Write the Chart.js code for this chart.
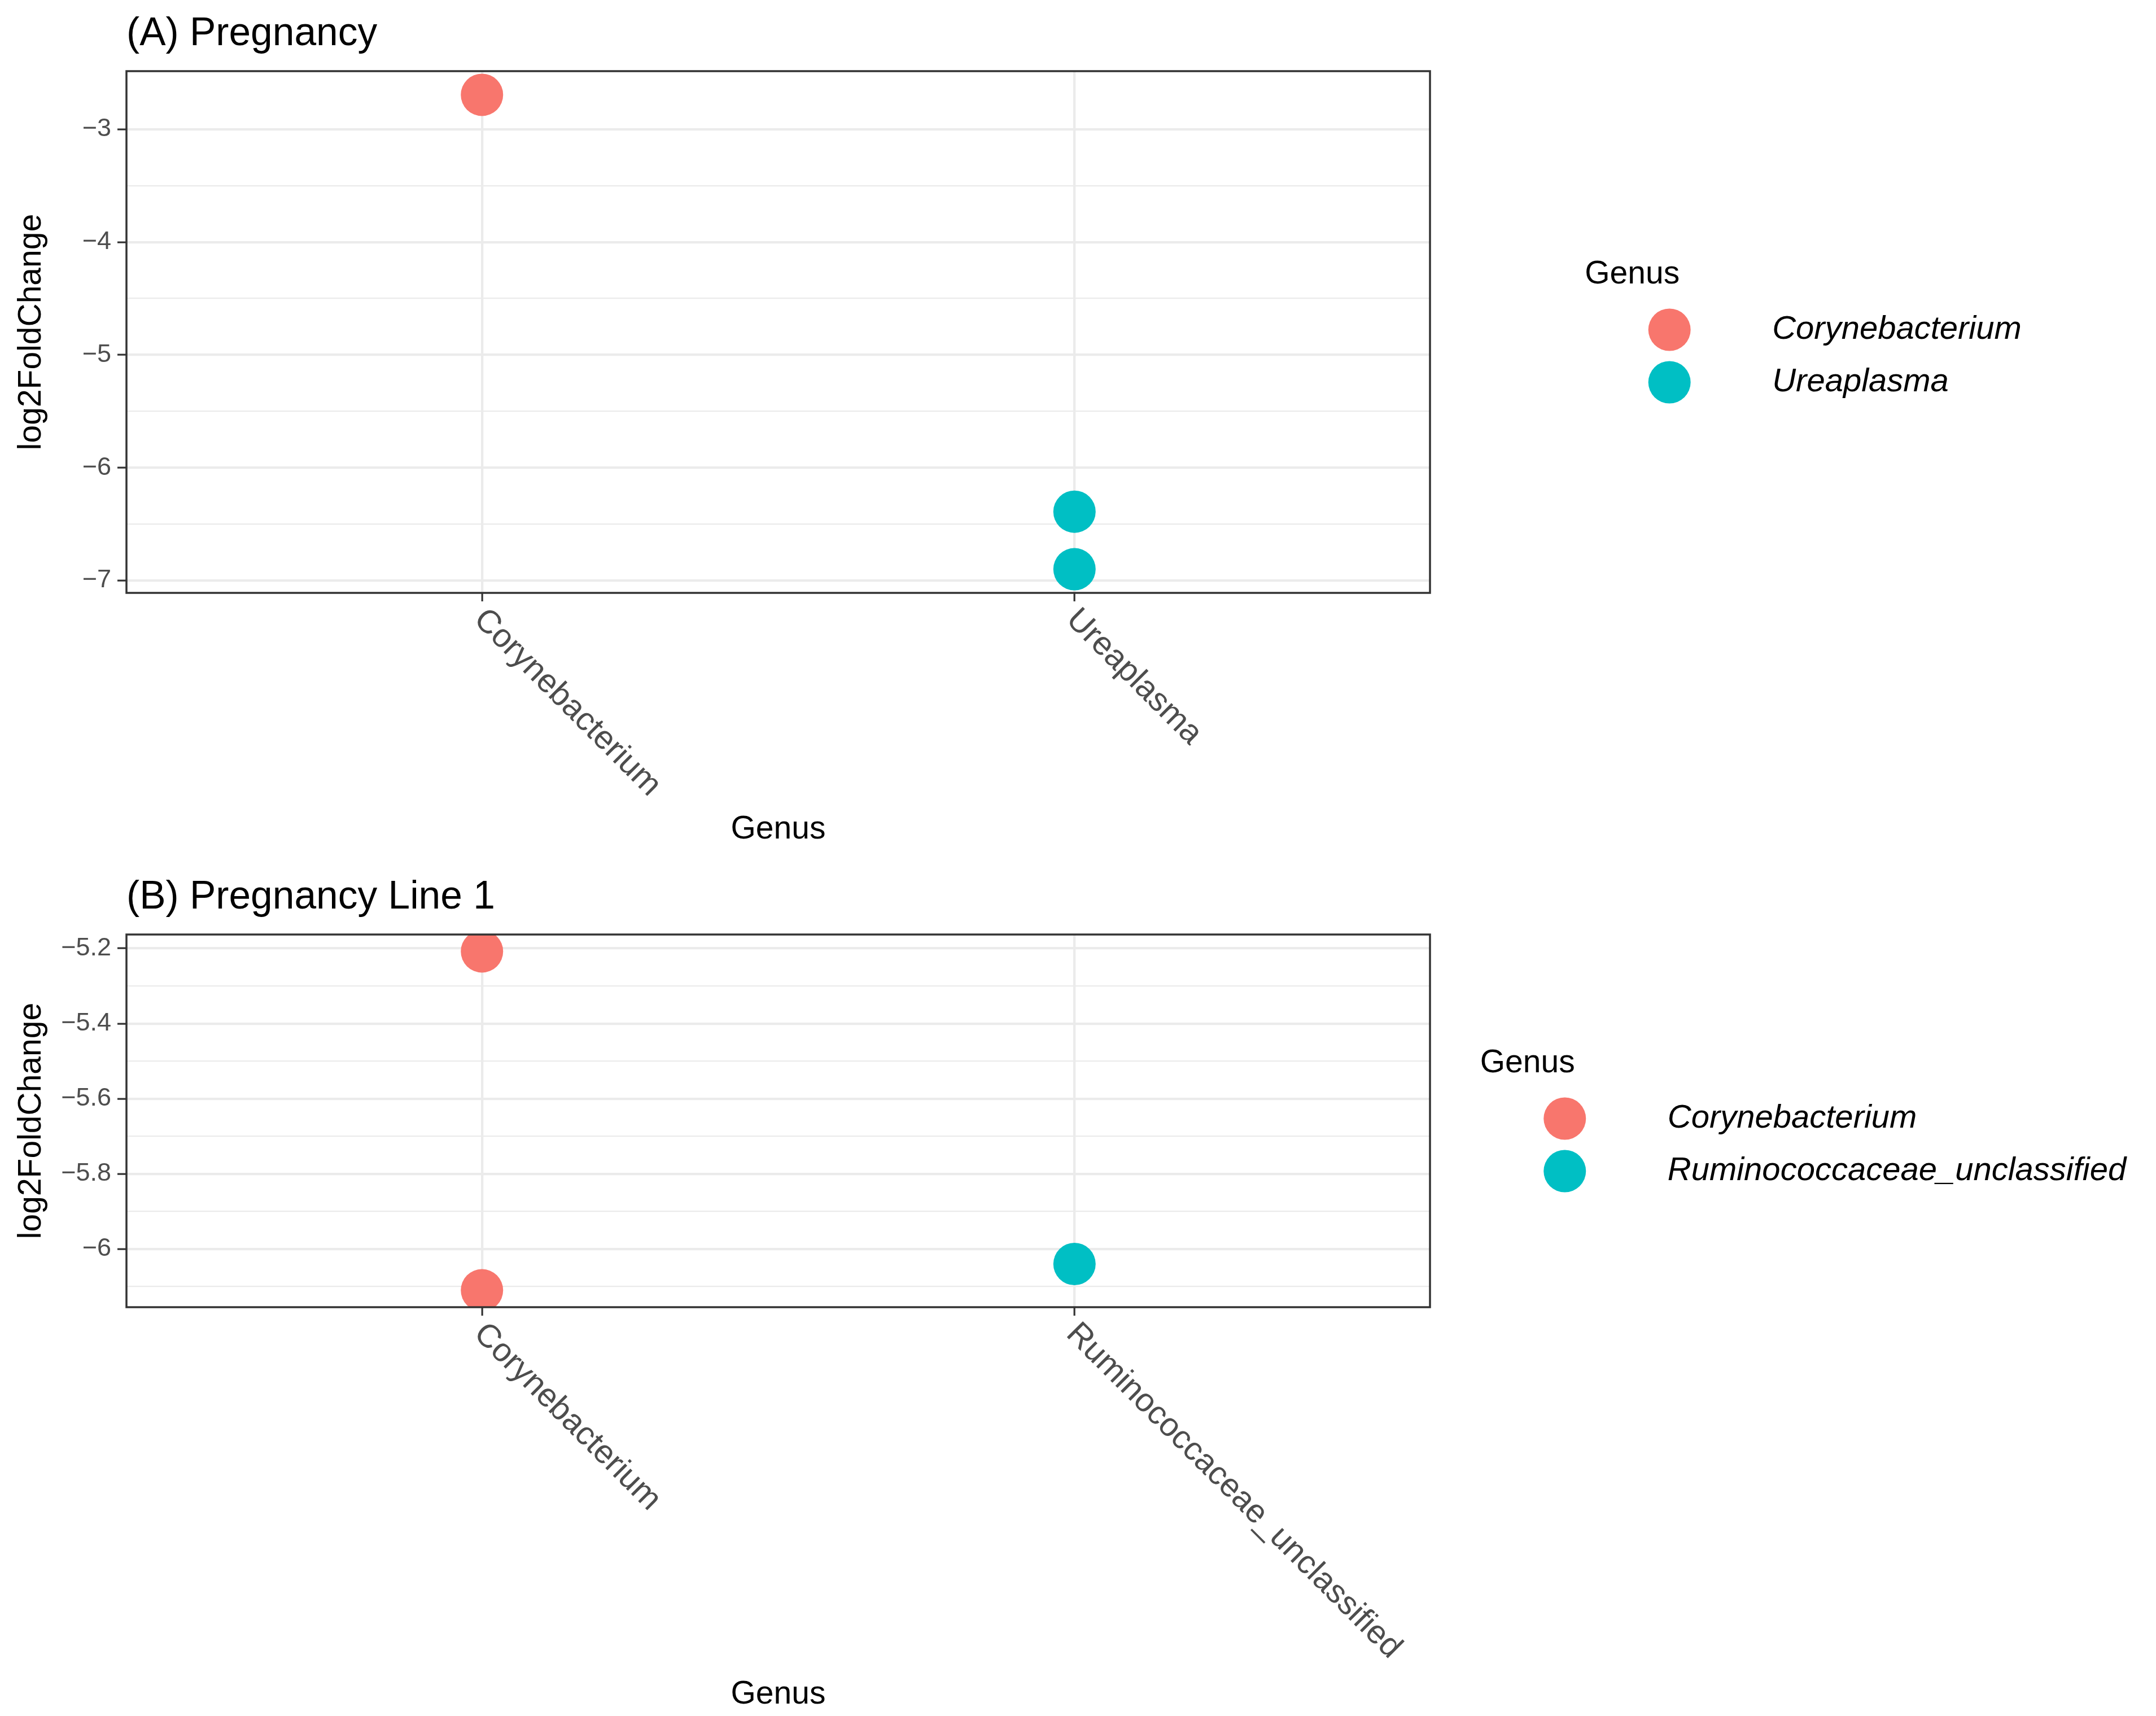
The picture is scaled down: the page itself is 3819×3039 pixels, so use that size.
<!DOCTYPE html>
<html>
<head>
<meta charset="utf-8">
<script src="https://cdn.jsdelivr.net/npm/chart.js@4.4.1/dist/chart.umd.min.js"></script>
<style>
  html, body { margin: 0; padding: 0; background: #fff; }
  #wrap { position: relative; width: 3819px; height: 3039px; background: #fff; }
  #wrap canvas { position: absolute; left: 0; }
</style>
</head>
<body>
<div id="wrap">
  <canvas id="chartA" width="3819" height="1520" style="top:0px"></canvas>
  <canvas id="chartB" width="3819" height="1519" style="top:1520px"></canvas>
</div>
<script>
// ── Data ───────────────────────────────────────────────────
const genusA = ['Corynebacterium', 'Ureaplasma'];
const corynebacteriumA = [-2.695];
const ureaplasmaA = [-6.39, -6.90];
const yMajorA = [-7, -6, -5, -4, -3];
const yMinorA = [-6.5, -5.5, -4.5, -3.5];
const yLabelsA = ['\u22127', '\u22126', '\u22125', '\u22124', '\u22123'];
const yLimitsA = [-7.11, -2.485];

const genusB = ['Corynebacterium', 'Ruminococcaceae_unclassified'];
const corynebacteriumB = [-5.208, -6.110];
const ruminococcaceaeB = [-6.040];
const yMajorB = [-6.0, -5.8, -5.6, -5.4, -5.2];
const yMinorB = [-6.1, -5.9, -5.7, -5.5, -5.3];
const yLabelsB = ['\u22126', '\u22125.8', '\u22125.6', '\u22125.4', '\u22125.2'];
const yLimitsB = [-6.155, -5.163];

const xLimits = [-0.6, 1.6];
const genusColors = ['#F8766D', '#00BFC4'];

const FONT = "'Liberation Sans', Arial, Helvetica, sans-serif";

// ── Panel decorations (border, titles, rotated labels, legend) ──
const panelDecor = {
  id: 'panelDecor',
  afterDatasetsDraw(chart) {
    const { ctx, chartArea: a } = chart;
    ctx.save();
    ctx.strokeStyle = '#333333';
    ctx.lineWidth = 3.5;
    ctx.strokeRect(a.left, a.top, a.right - a.left, a.bottom - a.top);
    ctx.restore();
  },
  afterDraw(chart, args, opts) {
    const { ctx, chartArea: a, scales: { x } } = chart;
    const cx = (a.left + a.right) / 2;
    const cy = (a.top + a.bottom) / 2;
    ctx.save();

    // panel title
    ctx.fillStyle = '#000';
    ctx.font = `69.5px ${FONT}`;
    ctx.textAlign = 'left';
    ctx.textBaseline = 'alphabetic';
    ctx.fillText(opts.title, a.left, a.top - 46);

    // y axis title
    ctx.save();
    ctx.translate(56, cy);
    ctx.rotate(-Math.PI / 2);
    ctx.font = `57px ${FONT}`;
    ctx.textAlign = 'center';
    ctx.textBaseline = 'middle';
    ctx.fillText('log2FoldChange', 0, 0);
    ctx.restore();

    // rotated category labels
    ctx.font = `58px ${FONT}`;
    ctx.fillStyle = '#4D4D4D';
    ctx.textAlign = 'left';
    ctx.textBaseline = 'top';
    opts.genus.forEach((g, i) => {
      const px = x.getPixelForValue(i);
      ctx.save();
      ctx.translate(px + 15, a.bottom + 18);
      ctx.rotate(Math.PI / 4);
      ctx.fillText(g, 0, 0);
      ctx.restore();
    });

    // x axis title
    ctx.font = `57px ${FONT}`;
    ctx.fillStyle = '#000';
    ctx.textAlign = 'center';
    ctx.textBaseline = 'alphabetic';
    ctx.fillText('Genus', cx, a.bottom + opts.xTitleOffset);

    // legend
    ctx.font = `57px ${FONT}`;
    const titleW = ctx.measureText('Genus').width;
    ctx.font = `italic 58px ${FONT}`;
    const textW = Math.max(...opts.genus.map(g => ctx.measureText(g).width));
    const w = Math.max(titleW, 332 + textW);
    const x0 = 3194 - w / 2;
    ctx.font = `57px ${FONT}`;
    ctx.textAlign = 'left';
    ctx.fillText('Genus', x0, cy - 86);
    ctx.font = `italic 58px ${FONT}`;
    ctx.textBaseline = 'middle';
    opts.genus.forEach((g, i) => {
      const y = cy - 4 + i * 93;
      ctx.fillStyle = genusColors[i];
      ctx.beginPath();
      ctx.arc(x0 + 150, y, 37.5, 0, Math.PI * 2);
      ctx.fill();
      ctx.fillStyle = '#000';
      ctx.fillText(g, x0 + 332, y);
    });
    ctx.restore();
  }
};

// ── Chart builder ──────────────────────────────────────────
function makeChart(id, cfg) {
  const ticks = cfg.yMajor.concat(cfg.yMinor);
  const isMajor = v => cfg.yMajor.includes(v);
  return new Chart(document.getElementById(id), {
    type: 'scatter',
    data: {
      datasets: cfg.series.map((vals, i) => ({
        label: cfg.genus[i],
        data: vals.map(v => ({ x: i, y: v })),
        backgroundColor: genusColors[i],
        borderWidth: 0,
        pointRadius: 37.5,
        pointHoverRadius: 37.5,
      }))
    },
    options: {
      responsive: false,
      animation: false,
      events: [],
      layout: { padding: { left: 0, top: cfg.top, right: 1286, bottom: 0 } },
      plugins: {
        legend: { display: false },
        title: { display: false },
        tooltip: { enabled: false },
        panelDecor: { title: cfg.title, genus: cfg.genus, xTitleOffset: cfg.xTitleOffset }
      },
      scales: {
        x: {
          type: 'linear',
          min: xLimits[0],
          max: xLimits[1],
          afterBuildTicks: s => { s.ticks = cfg.genus.map((g, i) => ({ value: i })); },
          afterFit: s => { s.height = cfg.xAxisHeight; },
          ticks: { display: false },
          grid: { color: '#EBEBEB', lineWidth: 4.3, tickLength: 15, tickColor: '#333333', tickWidth: 3.2 },
          border: { display: false }
        },
        y: {
          min: cfg.yLimits[0],
          max: cfg.yLimits[1],
          afterBuildTicks: s => { s.ticks = ticks.map(v => ({ value: v })); },
          afterFit: s => { s.width = 224; },
          ticks: {
            padding: 11,
            color: '#4D4D4D',
            font: { family: FONT, size: 45 },
            callback: v => isMajor(v) ? cfg.yLabels[cfg.yMajor.indexOf(v)] : ''
          },
          grid: {
            color: '#EBEBEB',
            lineWidth: c => isMajor(c.tick.value) ? 4.3 : 2.2,
            tickLength: 16,
            tickWidth: 3.2,
            tickColor: c => isMajor(c.tick.value) ? '#333333' : 'rgba(0,0,0,0)'
          },
          border: { display: false }
        }
      }
    },
    plugins: [panelDecor]
  });
}

// ── Panel A: Pregnancy ─────────────────────────────────────
const chartA = makeChart('chartA', {
  title: '(A) Pregnancy',
  genus: genusA,
  series: [corynebacteriumA, ureaplasmaA],
  yMajor: yMajorA, yMinor: yMinorA, yLabels: yLabelsA, yLimits: yLimitsA,
  top: 126, xAxisHeight: 470, xTitleOffset: 435
});

// ── Panel B: Pregnancy Line 1 ──────────────────────────────
const chartB = makeChart('chartB', {
  title: '(B) Pregnancy Line 1',
  genus: genusB,
  series: [corynebacteriumB, ruminococcaceaeB],
  yMajor: yMajorB, yMinor: yMinorB, yLabels: yLabelsB, yLimits: yLimitsB,
  top: 135, xAxisHeight: 724, xTitleOffset: 702
});
</script>
</body>
</html>
